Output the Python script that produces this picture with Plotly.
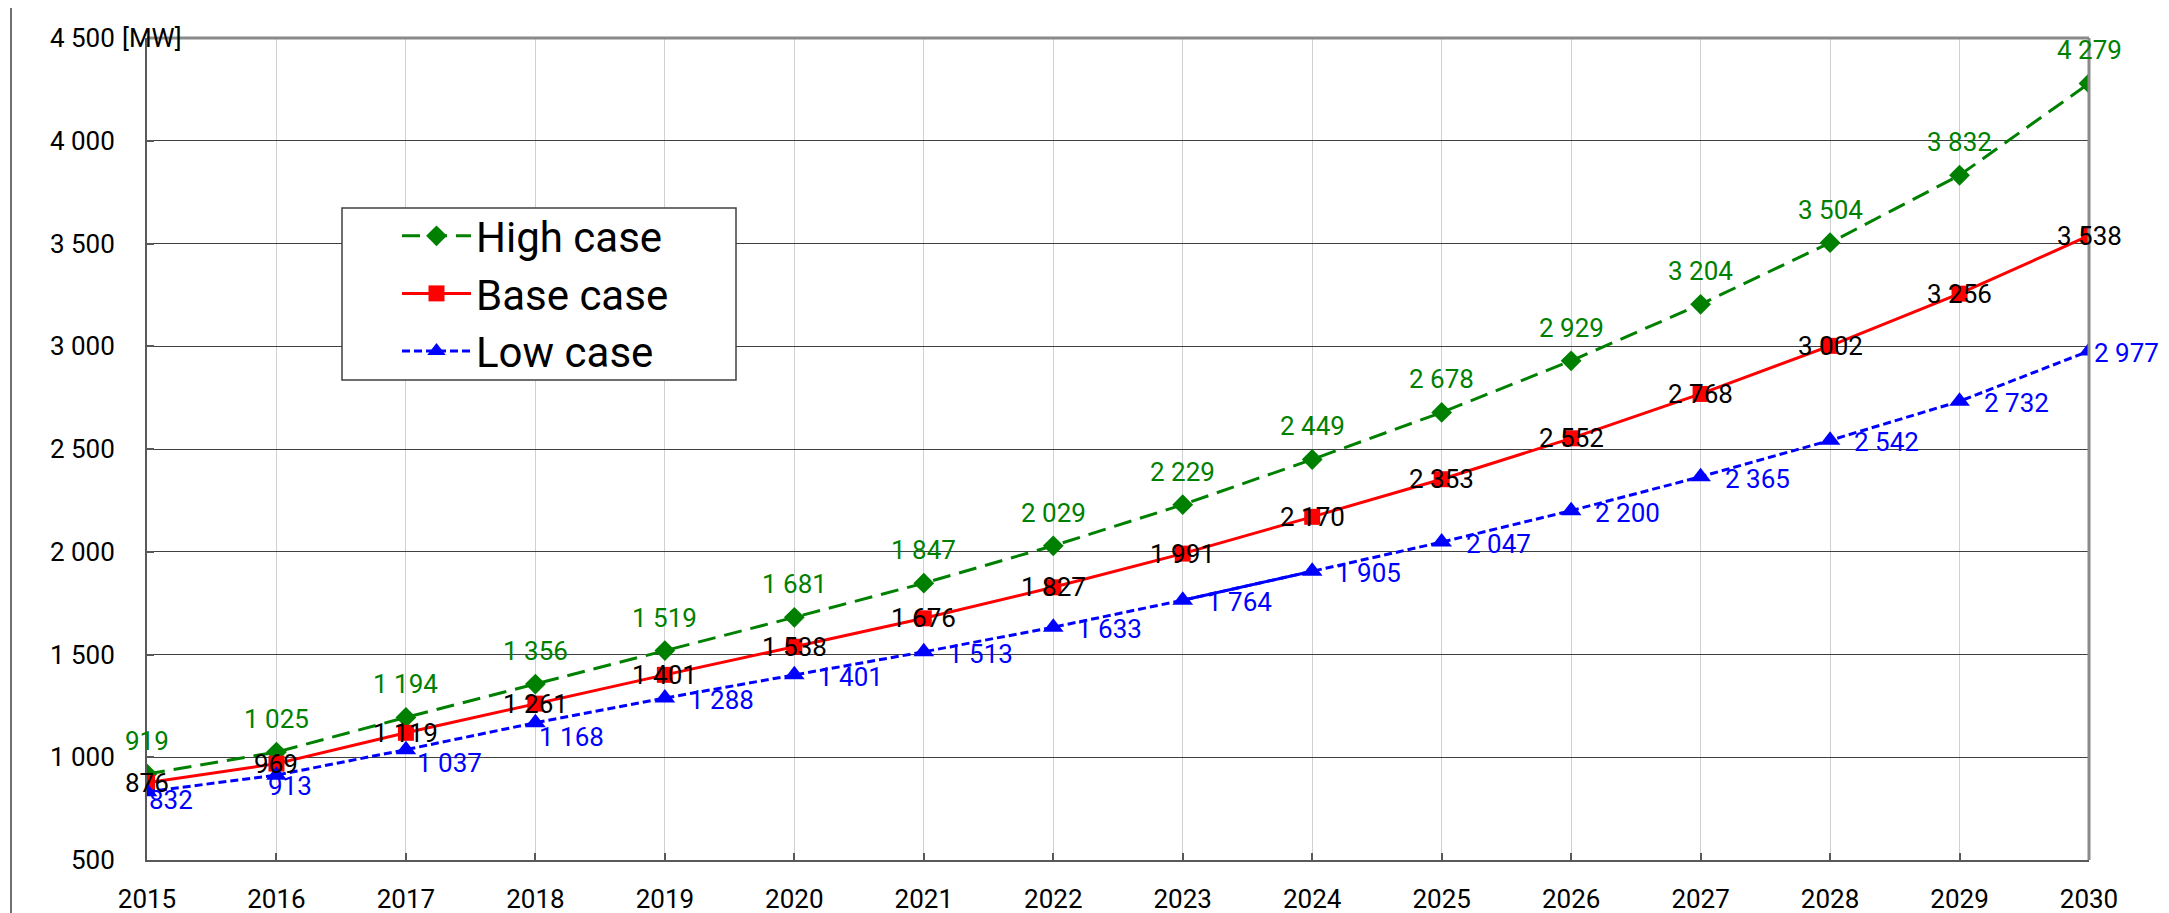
import plotly.graph_objects as go

# data
years = list(range(2015, 2031))
high_case = [919, 1025, 1194, 1356, 1519, 1681, 1847, 2029, 2229, 2449, 2678, 2929, 3204, 3504, 3832, 4279]
base_case = [876, 969, 1119, 1261, 1401, 1538, 1676, 1827, 1991, 2170, 2353, 2552, 2768, 3002, 3256, 3538]
low_case = [832, 913, 1037, 1168, 1288, 1401, 1513, 1633, 1764, 1905, 2047, 2200, 2365, 2542, 2732, 2977]
y_ticks = [500, 1000, 1500, 2000, 2500, 3000, 3500, 4000, 4500]
y_unit = "[MW]"

FONT = "Roboto"
GREEN = "#008000"
RED = "#FF0000"
BLUE = "#0000FF"

# the page body has an 8px margin, so the figure is a bit smaller than the window
OFF = 8
W, H = 2169 - OFF, 913 - OFF
# plot area on the page: x 147..2089, y 38..860
ML, MT = 147 - OFF, 38 - OFF
MR, MB = W - (2089 - OFF), H - (860 - OFF)
PW, PH = W - ML - MR, H - MT - MB


def px_x(x):
    """page pixel x -> paper x"""
    return (x - OFF - ML) / PW


def px_y(y):
    """page pixel y -> paper y"""
    return (H - MB - (y - OFF)) / PH


def fmt(v):
    return f"{v:,}".replace(",", " ")


# hand nudges of some low case labels (dx, dy in px), like in the source
low_nudge = {2015: (-22, -6), 2016: (-32, -9), 2017: (-13, -11), 2018: (-20, -12), 2030: (-19, 0)}

fig = go.Figure()

fig.add_trace(go.Scatter(x=years, y=high_case, name="High case", mode="lines+markers",
                         line=dict(color=GREEN, width=3, dash="18px,9px"),
                         marker=dict(symbol="diamond", size=16, color=GREEN)))
fig.add_trace(go.Scatter(x=years, y=base_case, name="Base case", mode="lines+markers",
                         line=dict(color=RED, width=3),
                         marker=dict(symbol="square", size=16, color=RED)))
fig.add_trace(go.Scatter(x=years, y=low_case, name="Low case", mode="lines+markers",
                         line=dict(color=BLUE, width=3, dash="8px,4px"),
                         marker=dict(symbol="triangle-up", size=18, color=BLUE)))
# the 2023-2024 stretch of the low case is drawn solid
fig.add_trace(go.Scatter(x=years[8:10], y=low_case[8:10], mode="lines", showlegend=False,
                         line=dict(color=BLUE, width=3)))

annotations = []
for x, v in zip(years, high_case):
    annotations.append(dict(x=x, y=v, text=fmt(v), showarrow=False, yshift=33,
                            font=dict(family=FONT, size=26, color=GREEN)))
for x, v in zip(years, base_case):
    annotations.append(dict(x=x, y=v, text=fmt(v), showarrow=False,
                            font=dict(family=FONT, size=26, color="black")))
for x, v in zip(years, low_case):
    dx, dy = low_nudge.get(x, (0, 0))
    annotations.append(dict(x=x, y=v, text=fmt(v), showarrow=False, xanchor="left",
                            xshift=22 + dx, yshift=-2 + dy,
                            font=dict(family=FONT, size=26, color=BLUE)))
# unit next to the top y tick
annotations.append(dict(x=px_x(120), xref="paper", y=y_ticks[-1], yref="y", text=y_unit,
                        showarrow=False, xanchor="left", yanchor="middle",
                        font=dict(family=FONT, size=26, color="black")))

shapes = [
    # outer frame of the chart
    dict(type="rect", xref="paper", yref="paper", x0=px_x(11), x1=px_x(2164),
         y0=px_y(940), y1=px_y(5), line=dict(color="#707070", width=2), layer="below"),
    # top and right border of the plot area
    dict(type="line", xref="paper", yref="paper", x0=0, x1=1, y0=1, y1=1,
         line=dict(color="#8a8a8a", width=3)),
    dict(type="line", xref="paper", yref="paper", x0=1, x1=1, y0=0, y1=1,
         line=dict(color="#8a8a8a", width=3)),
    # legend box
    dict(type="rect", xref="paper", yref="paper", x0=px_x(342), x1=px_x(736),
         y0=px_y(380), y1=px_y(208), fillcolor="white",
         line=dict(color="#404040", width=1.5), layer="above"),
]

fig.update_layout(
    width=W, height=H,
    margin=dict(l=ML, r=MR, t=MT, b=MB),
    paper_bgcolor="white", plot_bgcolor="white",
    separators=". ",
    font=dict(family=FONT, size=26, color="black"),
    showlegend=True,
    legend=dict(x=px_x(397), y=px_y(202), xanchor="left", yanchor="top",
                bgcolor="rgba(0,0,0,0)", borderwidth=0,
                font=dict(family=FONT, size=42, color="black"),
                itemwidth=69, traceorder="normal"),
    annotations=annotations,
    shapes=shapes,
    xaxis=dict(range=[years[0], years[-1]], tickvals=years, ticks="inside", ticklen=7,
               tickcolor="#595959", tickwidth=1.5, showgrid=True, gridcolor="#d0d0d0",
               gridwidth=1, zeroline=False, showline=True, linecolor="#595959",
               linewidth=2, ticklabelstandoff=15, automargin=False,
               tickfont=dict(family=FONT, size=26)),
    yaxis=dict(range=[y_ticks[0], y_ticks[-1]], tickvals=y_ticks,
               ticktext=[fmt(t) for t in y_ticks], ticks="inside", ticklen=7,
               tickcolor="#595959", tickwidth=1.5, showgrid=True, gridcolor="#404040",
               gridwidth=1, zeroline=False, showline=True, linecolor="#595959",
               linewidth=2, ticklabelstandoff=25, automargin=False,
               tickfont=dict(family=FONT, size=26)),
)

fig.write_html("out.html")
